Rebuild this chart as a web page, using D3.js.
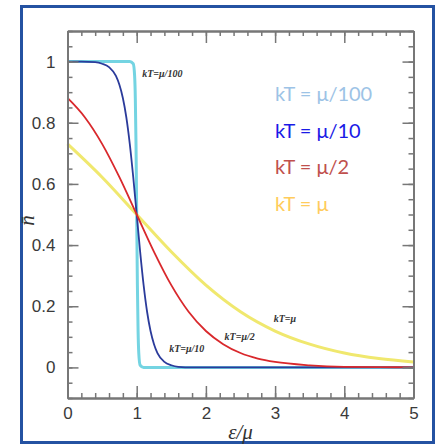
<!DOCTYPE html>
<html>
<head>
<meta charset="utf-8">
<script src="https://cdn.jsdelivr.net/npm/d3@7"></script>
<style>
  body { margin: 0; background: #fff; }
  svg { display: block; }
</style>
</head>
<body>
<script>
// Fermi-Dirac occupation, one list per temperature
let series = ['kT = μ/100', 'kT = μ/10', 'kT = μ/2', 'kT = μ']
let shortNames = ['kT=μ/100', 'kT=μ/10', 'kT=μ/2', 'kT=μ']

let eps100 = [0, 0.5, 0.9, 0.95, 0.97, 0.98, 0.99, 1.0, 1.01, 1.02, 1.03, 1.05, 1.1, 2, 3, 4, 5]
let n100   = [1, 1, 1, 0.993, 0.953, 0.881, 0.731, 0.5, 0.269, 0.119, 0.047, 0.007, 0, 0, 0, 0, 0]

let eps10 = [0, 0.2, 0.4, 0.5, 0.6, 0.7, 0.75, 0.8, 0.85, 0.9, 0.95, 1.0, 1.05, 1.1, 1.15, 1.2, 1.25, 1.3, 1.4, 1.5, 1.6, 1.8, 2, 3, 4, 5]
let n10   = [1, 1, 0.998, 0.993, 0.982, 0.953, 0.924, 0.881, 0.818, 0.731, 0.622, 0.5, 0.378, 0.269, 0.182, 0.119, 0.076, 0.047, 0.018, 0.007, 0.002, 0, 0, 0, 0, 0]

let eps2 = [0, 0.25, 0.5, 0.75, 1, 1.25, 1.5, 1.75, 2, 2.25, 2.5, 2.75, 3, 3.5, 4, 4.5, 5]
let n2   = [0.881, 0.818, 0.731, 0.622, 0.5, 0.378, 0.269, 0.182, 0.119, 0.076, 0.047, 0.029, 0.018, 0.007, 0.002, 0.001, 0]

let eps1 = [0, 0.5, 1, 1.5, 2, 2.5, 3, 3.5, 4, 4.5, 5]
let n1   = [0.731, 0.622, 0.5, 0.378, 0.269, 0.182, 0.119, 0.076, 0.047, 0.029, 0.018]

let xTicks = [0, 1, 2, 3, 4, 5]
let yTicks = [0, 0.2, 0.4, 0.6, 0.8, 1]

let w = 440
let h = 446
let padL = 67.5, padR = 413.5, padT = 31, padB = 398

let x = d3.scaleLinear().domain([0, 5]).range([padL, padR])
let y = d3.scaleLinear().domain([-0.1, 1.1]).range([padB, padT])

let curveColors = ['#74d4e2', '#2b3b9b', '#d9282c', '#f0e86e']
let curveWidths = [3, 1.8, 1.8, 3]
let legendColors = ['#9dc3e6', '#1a1ae6', '#c0504d', '#ffcc5c']

let svg = d3.select('body').append('svg').attr('width', w).attr('height', h)

// outer blue frame
svg.append('rect').attr('x', 21.5).attr('y', 6.5).attr('width', 412).attr('height', 436)
  .attr('fill', 'none').attr('stroke', '#2452a2').attr('stroke-width', 3)

// curves
let data = [
  d3.zip(eps100, n100),
  d3.zip(eps10, n10),
  d3.zip(eps2, n2),
  d3.zip(eps1, n1)
]
let line = d3.line().x(d => x(d[0])).y(d => y(d[1])).curve(d3.curveMonotoneX)

let order = [0, 3, 1, 2]
order.forEach(i => {
  svg.append('path').attr('d', line(data[i]))
    .attr('fill', 'none')
    .attr('stroke', curveColors[i])
    .attr('stroke-width', curveWidths[i])
    .attr('stroke-linejoin', 'round')
})

// frame ticks
let minorX = d3.range(0, 5.01, 0.2)
let minorY = d3.range(-0.1, 1.101, 0.05)

function styleAxis(g) {
  g.selectAll('.domain').attr('stroke', '#777').attr('stroke-width', 2)
  g.selectAll('.tick line').attr('stroke', '#777').attr('stroke-width', 1.5)
  g.selectAll('text').attr('fill', '#3a3a3a').style('font-family', '"Liberation Sans", Arial, sans-serif').style('font-size', '17px')
}

svg.append('g').attr('transform', `translate(0,${padB})`)
  .call(d3.axisBottom(x).tickValues(minorX).tickSize(-5).tickFormat('').tickSizeOuter(0)).call(styleAxis)
svg.append('g').attr('transform', `translate(0,${padB})`)
  .call(d3.axisBottom(x).tickValues(xTicks).tickSize(-12).tickPadding(9).tickFormat(d3.format('d')).tickSizeOuter(0)).call(styleAxis)
svg.append('g').attr('transform', `translate(0,${padT})`)
  .call(d3.axisTop(x).tickValues(minorX).tickSize(-5).tickFormat('').tickSizeOuter(0)).call(styleAxis)
svg.append('g').attr('transform', `translate(0,${padT})`)
  .call(d3.axisTop(x).tickValues(xTicks).tickSize(-12).tickFormat('').tickSizeOuter(0)).call(styleAxis)

svg.append('g').attr('transform', `translate(${padL},0)`)
  .call(d3.axisLeft(y).tickValues(minorY).tickSize(-5).tickFormat('').tickSizeOuter(0)).call(styleAxis)
svg.append('g').attr('transform', `translate(${padL},0)`)
  .call(d3.axisLeft(y).tickValues(yTicks).tickSize(-11).tickPadding(12).tickFormat(d => d === 0 || d === 1 ? d3.format('d')(d) : d3.format('.1f')(d)).tickSizeOuter(0)).call(styleAxis)
svg.append('g').attr('transform', `translate(${padR},0)`)
  .call(d3.axisRight(y).tickValues(minorY).tickSize(-5).tickFormat('').tickSizeOuter(0)).call(styleAxis)
svg.append('g').attr('transform', `translate(${padR},0)`)
  .call(d3.axisRight(y).tickValues(yTicks).tickSize(-11).tickFormat('').tickSizeOuter(0)).call(styleAxis)

// axis titles
svg.append('text').attr('x', (padL + padR) / 2).attr('y', 439)
  .attr('text-anchor', 'middle')
  .style('font-family', '"Liberation Serif", serif').style('font-style', 'italic').style('font-size', '21px')
  .attr('fill', '#333').text('ε/μ')

svg.append('text').attr('transform', `translate(34,${y(0.48)}) rotate(-90)`)
  .attr('text-anchor', 'middle')
  .style('font-family', '"Liberation Serif", serif').style('font-style', 'italic').style('font-size', '21px')
  .attr('fill', '#333').text('n̄')

// small labels beside the curves
let notePos = [[1.08, 0.95], [1.47, 0.05], [2.27, 0.09], [2.98, 0.15]]
shortNames.forEach((s, i) => {
  svg.append('text').attr('x', x(notePos[i][0])).attr('y', y(notePos[i][1]))
    .style('font-family', '"Liberation Serif", serif').style('font-style', 'italic')
    .style('font-weight', 'bold').style('font-size', '10px')
    .attr('fill', '#333').text(s)
})

// legend text
series.forEach((s, i) => {
  svg.append('text').attr('x', 275).attr('y', 101 + i * 36.5)
    .style('font-family', 'Lato, "Open Sans", sans-serif').style('font-size', '20px')
    .attr('fill', legendColors[i]).text(s)
})
</script>
</body>
</html>
